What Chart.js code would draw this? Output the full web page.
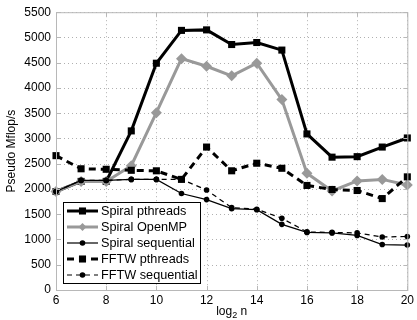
<!DOCTYPE html>
<html>
<head>
<meta charset="utf-8">
<script src="https://cdn.jsdelivr.net/npm/chart.js@4/dist/chart.umd.min.js"></script>
<style>
  html, body { margin: 0; padding: 0; background: #fff; }
  #wrap { width: 417px; height: 320px; }
</style>
</head>
<body>
<div id="wrap"><canvas id="myChart" width="417" height="320"></canvas></div>
<script>
// log2 n on the x axis
const sizes = [6, 7, 8, 9, 10, 11, 12, 13, 14, 15, 16, 17, 18, 19, 20];

const spiralPthreads = [1950, 2150, 2150, 3150, 4490, 5140, 5150, 4860, 4900, 4750, 3090, 2630, 2640, 2830, 3010];
const spiralOpenMP   = [1950, 2150, 2150, 2460, 3510, 4580, 4430, 4240, 4490, 3770, 2310, 1960, 2160, 2190, 2080];
const spiralSeq      = [1950, 2170, 2170, 2190, 2190, 1910, 1790, 1610, 1590, 1300, 1140, 1130, 1080, 900, 890];
const fftwPthreads   = [2660, 2400, 2390, 2370, 2360, 2190, 2830, 2360, 2510, 2410, 2070, 1990, 1970, 1810, 2240];
const fftwSeq        = [1950, 2170, 2170, 2190, 2190, 2190, 1980, 1630, 1600, 1420, 1150, 1140, 1130, 1050, 1060];

const xTicks = [6, 8, 10, 12, 14, 16, 18, 20];
const yTicks = [0, 500, 1000, 1500, 2000, 2500, 3000, 3500, 4000, 4500, 5000, 5500];

const FONT = '"Liberation Sans", Arial, Helvetica, sans-serif';
const AXIS_GREY = '#b8b8b8';

const pts = (arr) => sizes.map((x, i) => ({ x: x, y: arr[i] }));

const series = [
  { label: 'Spiral pthreads', data: spiralPthreads, color: '#000', width: 3, dash: [], style: 'rect', r: 5 },
  { label: 'Spiral OpenMP', data: spiralOpenMP, color: '#999', width: 3, dash: [], style: 'rectRot', r: 5.5 },
  { label: 'Spiral sequential', data: spiralSeq, color: '#000', width: 1.2, dash: [], style: 'circle', r: 2.8 },
  { label: 'FFTW pthreads', data: fftwPthreads, color: '#000', width: 3, dash: [7, 5], style: 'rect', r: 5 },
  { label: 'FFTW sequential', data: fftwSeq, color: '#000', width: 1.2, dash: [5, 4], style: 'circle', r: 2.8 }
];

// draws one marker shape (used for the legend samples)
function marker(ctx, style, x, y, r, color) {
  ctx.save();
  ctx.fillStyle = color;
  ctx.beginPath();
  const s = Math.SQRT1_2 * r;
  if (style === 'rect') {
    ctx.rect(x - s, y - s, 2 * s, 2 * s);
  } else if (style === 'rectRot') {
    ctx.moveTo(x - s, y); ctx.lineTo(x, y - s); ctx.lineTo(x + s, y); ctx.lineTo(x, y + s); ctx.closePath();
  } else {
    ctx.arc(x, y, r, 0, Math.PI * 2);
  }
  ctx.fill();
  ctx.restore();
}

// dotted matlab style grid, under the lines
const dottedGrid = {
  id: 'dottedGrid',
  beforeDatasetsDraw(chart) {
    const ctx = chart.ctx;
    const a = chart.chartArea;
    const xs = chart.scales.x, ys = chart.scales.y;
    ctx.save();
    ctx.strokeStyle = '#b0b0b0';
    ctx.lineWidth = 1;
    ctx.setLineDash([1, 3]);
    ctx.beginPath();
    xTicks.forEach(v => {
      const px = Math.round(xs.getPixelForValue(v)) + 0.5;
      ctx.moveTo(px, a.top); ctx.lineTo(px, a.bottom);
    });
    yTicks.forEach(v => {
      const py = Math.round(ys.getPixelForValue(v)) + 0.5;
      ctx.moveTo(a.left, py); ctx.lineTo(a.right, py);
    });
    ctx.stroke();
    ctx.restore();
  }
};

const frameAndLabels = {
  id: 'frameAndLabels',
  afterDraw(chart) {
    const ctx = chart.ctx;
    const a = chart.chartArea;
    const xs = chart.scales.x, ys = chart.scales.y;
    ctx.save();
    // box
    ctx.strokeStyle = AXIS_GREY;
    ctx.lineWidth = 1;
    ctx.strokeRect(a.left + 0.5, a.top + 0.5, a.right - a.left, a.bottom - a.top);
    // inward ticks on all four sides
    ctx.beginPath();
    xTicks.forEach(v => {
      const px = Math.round(xs.getPixelForValue(v)) + 0.5;
      ctx.moveTo(px, a.bottom); ctx.lineTo(px, a.bottom - 4);
      ctx.moveTo(px, a.top); ctx.lineTo(px, a.top + 4);
    });
    yTicks.forEach(v => {
      const py = Math.round(ys.getPixelForValue(v)) + 0.5;
      ctx.moveTo(a.left, py); ctx.lineTo(a.left + 4, py);
      ctx.moveTo(a.right, py); ctx.lineTo(a.right - 4, py);
    });
    ctx.stroke();

    // y title
    ctx.fillStyle = '#000';
    ctx.font = '12px ' + FONT;
    ctx.textAlign = 'center';
    ctx.textBaseline = 'middle';
    ctx.translate(12, (a.top + a.bottom) / 2);
    ctx.rotate(-Math.PI / 2);
    ctx.fillText('Pseudo Mflop/s', 0, 0);
    ctx.setTransform(1, 0, 0, 1, 0, 0);

    // x title: log_2 n
    const cx = (a.left + a.right) / 2;
    const y0 = 312;
    ctx.textAlign = 'left';
    ctx.font = '12px ' + FONT;
    const w1 = ctx.measureText('log').width;
    ctx.font = '9px ' + FONT;
    const w2 = ctx.measureText('2').width;
    ctx.font = '12px ' + FONT;
    const w3 = ctx.measureText(' n').width;
    let x0 = cx - (w1 + w2 + w3) / 2;
    ctx.fillText('log', x0, y0);
    ctx.font = '9px ' + FONT;
    ctx.fillText('2', x0 + w1, y0 + 4);
    ctx.font = '12px ' + FONT;
    ctx.fillText(' n', x0 + w1 + w2, y0);

    // legend box
    const lx = 63, ly = 202, lw = 137, lh = 81;
    ctx.fillStyle = '#fff';
    ctx.fillRect(lx, ly, lw, lh);
    ctx.strokeStyle = '#000';
    ctx.lineWidth = 1;
    ctx.strokeRect(lx + 0.5, ly + 0.5, lw, lh);
    series.forEach((s, i) => {
      const ry = ly + 9 + i * 16;
      ctx.save();
      ctx.strokeStyle = s.color;
      ctx.lineWidth = s.width;
      ctx.setLineDash(s.dash);
      ctx.beginPath();
      ctx.moveTo(67, ry); ctx.lineTo(98, ry);
      ctx.stroke();
      ctx.restore();
      marker(ctx, s.style, 82.5, ry, s.r, s.color);
      ctx.fillStyle = '#000';
      ctx.font = '12.7px ' + FONT;
      ctx.textAlign = 'left';
      ctx.textBaseline = 'middle';
      ctx.fillText(s.label, 101, ry + 0.5);
    });
    ctx.restore();
  }
};

const ctx = document.getElementById('myChart');
new Chart(ctx, {
  type: 'line',
  data: {
    datasets: series.map(s => ({
      label: s.label,
      data: pts(s.data),
      borderColor: s.color,
      backgroundColor: s.color,
      borderWidth: s.width,
      borderDash: s.dash,
      pointStyle: s.style,
      pointRadius: s.r,
      pointBorderWidth: 0,
      pointHoverRadius: s.r,
      tension: 0,
      fill: false,
      clip: false
    })).reverse()
  },
  options: {
    responsive: false,
    animation: false,
    events: [],
    layout: { padding: { left: 0, right: 9, top: 12, bottom: 0 } },
    plugins: {
      legend: { display: false },
      tooltip: { enabled: false }
    },
    scales: {
      x: {
        type: 'linear',
        min: 6, max: 20,
        afterBuildTicks: (scale) => { scale.ticks = xTicks.map(v => ({ value: v })); },
        afterFit: (scale) => { scale.height = 30; },
        ticks: { color: '#000', font: { family: FONT, size: 12 }, padding: 3, maxRotation: 0,
                 callback: (v) => String(v) },
        grid: { display: false, drawTicks: false },
        border: { display: false }
      },
      y: {
        min: 0, max: 5500,
        afterBuildTicks: (scale) => { scale.ticks = yTicks.map(v => ({ value: v })); },
        afterFit: (scale) => { scale.width = 56; },
        ticks: { color: '#000', font: { family: FONT, size: 12 }, padding: 5,
                 callback: (v) => String(v) },
        grid: { display: false, drawTicks: false },
        border: { display: false }
      }
    }
  },
  plugins: [dottedGrid, frameAndLabels]
});
</script>
</body>
</html>
